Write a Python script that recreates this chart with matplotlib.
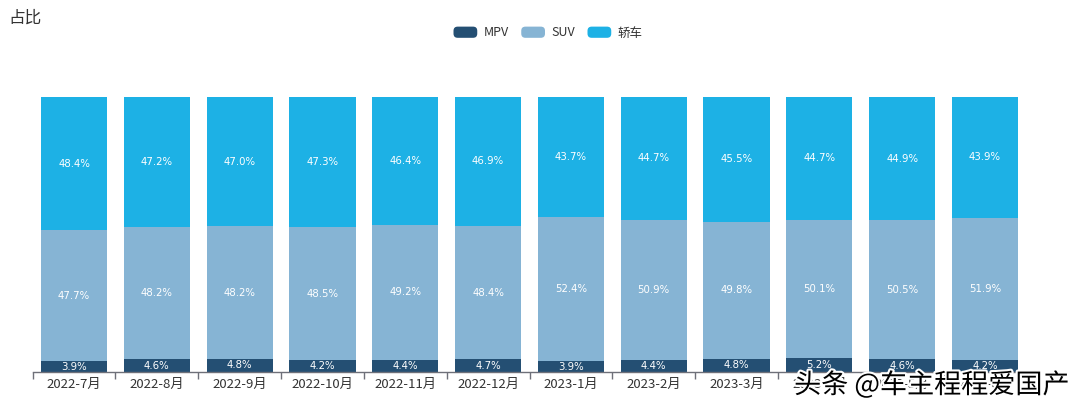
import matplotlib
matplotlib.use("Agg")
import matplotlib.pyplot as plt
import matplotlib.patheffects as pe
from matplotlib.patches import FancyBboxPatch
from matplotlib.legend_handler import HandlerPatch
import numpy as np

plt.rcParams['font.family'] = ['Noto Sans CJK SC', 'DejaVu Sans']

months = ["2022-7月", "2022-8月", "2022-9月", "2022-10月", "2022-11月", "2022-12月",
          "2023-1月", "2023-2月", "2023-3月", "2023-4月", "2023-5月", "2023-6月"]
mpv = [3.9, 4.6, 4.8, 4.2, 4.4, 4.7, 3.9, 4.4, 4.8, 5.2, 4.6, 4.2]
suv = [47.7, 48.2, 48.2, 48.5, 49.2, 48.4, 52.4, 50.9, 49.8, 50.1, 50.5, 51.9]
sedan = [48.4, 47.2, 47.0, 47.3, 46.4, 46.9, 43.7, 44.7, 45.5, 44.7, 44.9, 43.9]

series = [("MPV", mpv, "#244f73"), ("SUV", suv, "#86b4d4"), ("轿车", sedan, "#1db1e5")]

W, H = 1080, 416
fig = plt.figure(figsize=(W / 100, H / 100), dpi=100)
ax = fig.add_axes([32.6 / W, (H - 372) / H, (1026.4 - 32.6) / W, 275 / H])

x = np.arange(len(months))
bottom = np.zeros(len(months))
handles = []
for name, vals, col in series:
    vals = np.array(vals)
    b = ax.bar(x, vals, bottom=bottom, width=0.8, color=col, label=name, clip_on=False)
    handles.append(b)
    for xi, v, bt in zip(x, vals, bottom):
        ax.text(xi, bt + v / 2, f"{v:.1f}%", ha="center", va="center",
                color="white", fontsize=7.3, family=['DejaVu Sans'])
    bottom += vals

ax.set_xlim(-0.5, len(months) - 0.5)
ax.set_ylim(0, 100)
for s in ["top", "right", "left"]:
    ax.spines[s].set_visible(False)
ax.spines["bottom"].set_color("#6e7079")
ax.spines["bottom"].set_linewidth(1)
ax.set_yticks([])
ax.set_xticks(np.arange(-0.5, len(months), 1.0))
ax.set_xticklabels([])
ax.set_xticks(x, minor=True)
ax.set_xticklabels(months, minor=True, fontsize=9.5, color="#333333")
ax.tick_params(axis="x", which="major", length=5, color="#6e7079", width=1)
ax.tick_params(axis="x", which="minor", length=0, pad=4)

fig.text(8 / W, 1 - 18 / H, "占比", fontsize=12, color="#333333", va="center", ha="left")


class RoundHandler(HandlerPatch):
    def create_artists(self, legend, orig_handle, xdescent, ydescent, width, height, fontsize, trans):
        p = FancyBboxPatch((-xdescent, -ydescent), width, height,
                           boxstyle="round,pad=0,rounding_size=3",
                           facecolor=orig_handle.patches[0].get_facecolor(), edgecolor="none",
                           transform=trans)
        return [p]


leg = fig.legend(handles=handles, labels=[s[0] for s in series], loc="center",
                 bbox_to_anchor=(548 / W, 1 - 33 / H), ncol=3, frameon=False,
                 fontsize=9, handlelength=1.9, handleheight=1.0, columnspacing=1.0,
                 handletextpad=0.5, handler_map={type(handles[0]): RoundHandler()})
for t in leg.get_texts():
    t.set_color("#333333")

fig.text(1070 / W, 1 - 385 / H, "头条 @车主程程爱国产", fontsize=19.5, color="black",
         ha="right", va="center",
         path_effects=[pe.withStroke(linewidth=3, foreground="white")])

fig.savefig("out.png", dpi=100)
